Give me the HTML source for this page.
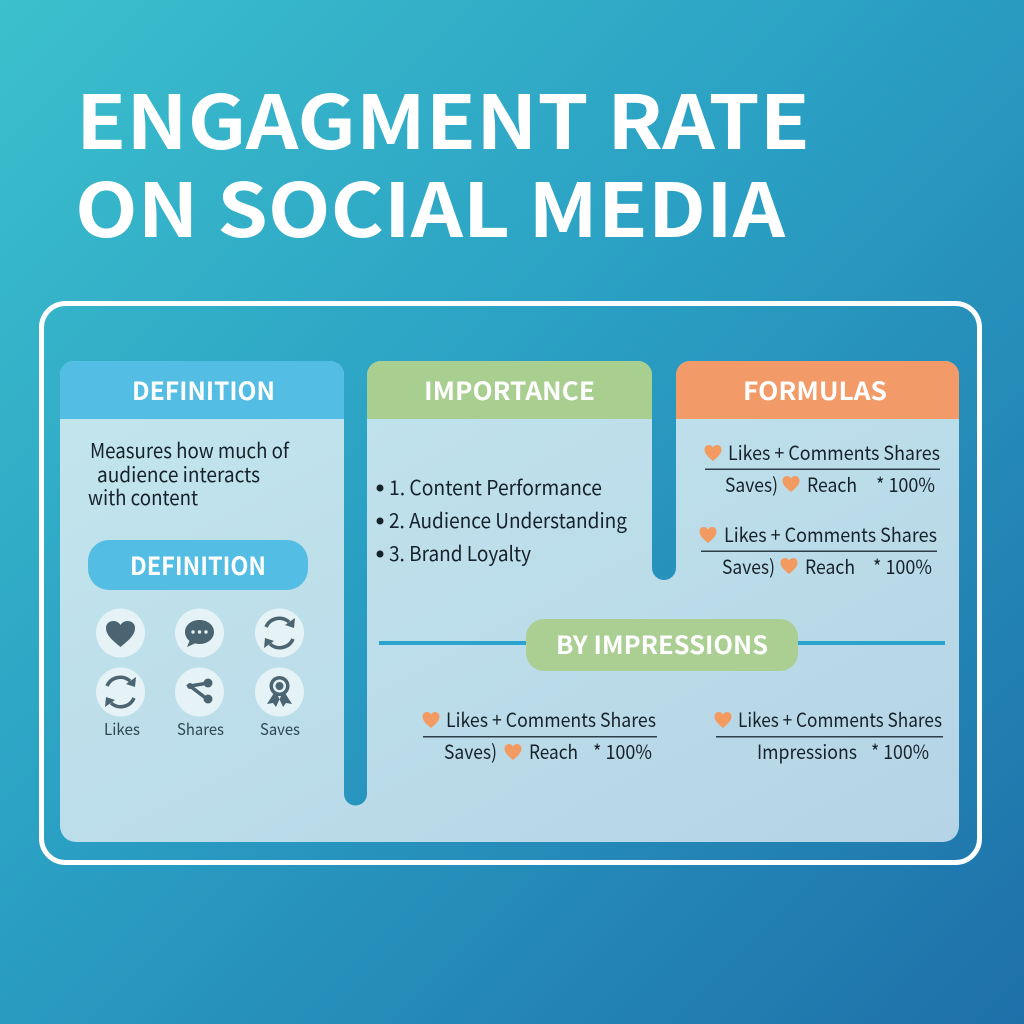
<!DOCTYPE html>
<html lang="en">
<head>
<meta charset="utf-8">
<title>Engagment Rate on Social Media</title>
<style>
html,body{margin:0;padding:0;width:1024px;height:1024px;overflow:hidden}
svg{display:block}
text{font-family:"Noto Sans CJK JP","Liberation Sans",sans-serif;fill:#16222b}
.h{font-weight:700;fill:#fff;font-size:25px}
.t{font-weight:700;fill:#fff;font-size:74px}
.b{font-size:20.5px}
.f{font-size:19.5px}
.l{font-size:16px;fill:#2f4554}
</style>
</head>
<body>
<svg width="1024" height="1024" viewBox="0 0 1024 1024" xmlns="http://www.w3.org/2000/svg">
<defs>
<linearGradient id="bg" x1="0" y1="0" x2="1" y2="1">
<stop offset="0" stop-color="#3cc0cd"/><stop offset=".45" stop-color="#2a9fc3"/><stop offset="1" stop-color="#1e70a9"/>
</linearGradient>
<linearGradient id="pn" x1="0" y1="0" x2="1" y2="1">
<stop offset="0" stop-color="#c3e6ed"/><stop offset="1" stop-color="#b5d4e6"/>
</linearGradient>
</defs>
<rect width="1024" height="1024" fill="url(#bg)"/>

<text class="t" x="76" y="149" textLength="734" lengthAdjust="spacingAndGlyphs">ENGAGMENT RATE</text>
<text class="t" x="75" y="237" textLength="710" lengthAdjust="spacingAndGlyphs">ON SOCIAL MEDIA</text>

<rect x="41.5" y="303.500" width="938" height="559" rx="24" fill="none" stroke="#fff" stroke-width="5"/>

<path fill="url(#pn)" d="M74 361H330A14 14 0 0 1 344 375V794A11.500 11.500 0 0 0 367 794V375A14 14 0 0 1 381 361H638A14 14 0 0 1 652 375V568A12 12 0 0 0 676 568V375A14 14 0 0 1 690 361H945A14 14 0 0 1 959 375V826A16 16 0 0 1 943 842H76A16 16 0 0 1 60 826V375A14 14 0 0 1 74 361Z"/>

<path fill="#54bde3" d="M60 419V375A14 14 0 0 1 74 361H330A14 14 0 0 1 344 375V419Z"/>
<path fill="#a9cf90" d="M367 419V375A14 14 0 0 1 381 361H638A14 14 0 0 1 652 375V419Z"/>
<path fill="#f29a68" d="M676 419V375A14 14 0 0 1 690 361H945A14 14 0 0 1 959 375V419Z"/>
<text class="h" x="132" y="400" textLength="143" lengthAdjust="spacingAndGlyphs">DEFINITION</text>
<text class="h" x="424" y="400" textLength="171" lengthAdjust="spacingAndGlyphs">IMPORTANCE</text>
<text class="h" x="743" y="400" textLength="144" lengthAdjust="spacingAndGlyphs">FORMULAS</text>

<g>
<text class="b" x="90" y="458" textLength="199" lengthAdjust="spacingAndGlyphs">Measures how much of</text>
<text class="b" x="97" y="482" textLength="163" lengthAdjust="spacingAndGlyphs">audience interacts</text>
<text class="b" x="88" y="505" textLength="110" lengthAdjust="spacingAndGlyphs">with content</text>
</g>

<rect x="88" y="540" width="220" height="50" rx="21" fill="#54bde3"/>
<text class="h" x="130" y="575" textLength="136" lengthAdjust="spacingAndGlyphs">DEFINITION</text>

<g>
<circle cx="120.500" cy="633" r="24.500" fill="#e6f3f6"/>
<path fill="#4a6472" d="M120.500 647C112 640 106 635 106 628C106 623 110 621 113.500 621C116.500 621 119 622.500 120.500 625C122 622.500 124.500 621 127.500 621C131 621 135 623 135 628C135 635 129 640 120.500 647Z"/>
</g>
<g>
<circle cx="199.500" cy="633" r="24.500" fill="#e6f3f6"/>
<path fill="#4a6472" d="M199.500 620C207.500 620 214 625 214 632C214 639 207.500 644 199.500 644C198 644 196.500 643.800 195 643.400L187 647L189.500 641C186.500 638.500 185 635.500 185 632C185 625 191.500 620 199.500 620Z"/>
<circle cx="193" cy="632" r="1.700" fill="#e6f3f6"/><circle cx="199.500" cy="632" r="1.700" fill="#e6f3f6"/><circle cx="206" cy="632" r="1.700" fill="#e6f3f6"/>
</g>
<g>
<circle cx="279.500" cy="633" r="24.500" fill="#e6f3f6"/>
<path fill="none" stroke="#4a6472" stroke-width="3.500" d="M266 627A14.500 14.500 0 0 1 289 622M293 639A14.500 14.500 0 0 1 270 644"/>
<path fill="#4a6472" d="M295 618L294 628L285 625ZM264 648L265 638L274 641Z"/>
</g>
<g>
<circle cx="120.500" cy="692" r="24.500" fill="#e6f3f6"/>
<path fill="none" stroke="#4a6472" stroke-width="3.500" d="M107 686A14.500 14.500 0 0 1 130 681M134 698A14.500 14.500 0 0 1 111 703"/>
<path fill="#4a6472" d="M136 677L135 687L126 684ZM105 707L106 697L115 700Z"/>
</g>
<g>
<circle cx="199.500" cy="692" r="24.500" fill="#e6f3f6"/>
<path fill="none" stroke="#4a6472" stroke-width="3.500" d="M208 683L190 686L207 699"/>
<circle cx="208" cy="683" r="4.500" fill="#4a6472"/><circle cx="208" cy="699" r="4.500" fill="#4a6472"/><circle cx="190" cy="686" r="3" fill="#4a6472"/>
</g>
<g>
<circle cx="279.500" cy="692" r="24.500" fill="#e6f3f6"/>
<path fill="#4a6472" d="M274 693L267 704L273 703L276 707L281 696ZM285 693L292 704L286 703L283 707L278 696Z"/>
<circle cx="279.500" cy="686" r="10" fill="#4a6472"/>
<circle cx="279.500" cy="686" r="6.500" fill="#e6f3f6"/>
<circle cx="279.500" cy="686" r="4" fill="#4a6472"/>
</g>
<text class="l" x="104" y="735" textLength="36" lengthAdjust="spacingAndGlyphs">Likes</text>
<text class="l" x="177" y="735" textLength="47" lengthAdjust="spacingAndGlyphs">Shares</text>
<text class="l" x="260" y="735" textLength="40" lengthAdjust="spacingAndGlyphs">Saves</text>

<g>
<circle cx="380" cy="488" r="3.500" fill="#16222b"/>
<text class="b" x="389" y="495" textLength="213" lengthAdjust="spacingAndGlyphs">1. Content Performance</text>
<circle cx="380" cy="521" r="3.500" fill="#16222b"/>
<text class="b" x="389" y="528" textLength="238" lengthAdjust="spacingAndGlyphs">2. Audience Understanding</text>
<circle cx="380" cy="554" r="3.500" fill="#16222b"/>
<text class="b" x="389" y="561" textLength="142" lengthAdjust="spacingAndGlyphs">3. Brand Loyalty</text>
</g>

<g>
<path fill="#f29a60" d="M713 461C707 456 704.500 453 704.500 449.500C704.500 446.500 707 445 709 445C710.800 445 712.200 446 713 447.500C713.800 446 715.200 445 717 445C719 445 721.500 446.500 721.500 449.500C721.500 453 719 456 713 461Z"/>
<text class="f" x="728" y="460" textLength="212" lengthAdjust="spacingAndGlyphs">Likes + Comments Shares</text>
<rect x="705" y="468.500" width="235" height="1.500" fill="#2c3e48"/>
<text class="f" x="725" y="492" textLength="53" lengthAdjust="spacingAndGlyphs">Saves)</text>
<path fill="#f29a60" d="M791 492C785 487 782.500 484 782.500 480.500C782.500 477.500 785 476 787 476C788.800 476 790.200 477 791 478.500C791.800 477 793.200 476 795 476C797 476 799.500 477.500 799.500 480.500C799.500 484 797 487 791 492Z"/>
<text class="f" x="807" y="492" textLength="50" lengthAdjust="spacingAndGlyphs">Reach</text>
<text class="f" x="876" y="492" textLength="59" lengthAdjust="spacingAndGlyphs">* 100%</text>
</g>

<g>
<path fill="#f29a60" d="M708 543C702 538 699.500 535 699.500 531.500C699.500 528.500 702 527 704 527C705.800 527 707.200 528 708 529.500C708.800 528 710.200 527 712 527C714 527 716.500 528.500 716.500 531.500C716.500 535 714 538 708 543Z"/>
<text class="f" x="724" y="542" textLength="213" lengthAdjust="spacingAndGlyphs">Likes + Comments Shares</text>
<rect x="701" y="550.500" width="236" height="1.500" fill="#2c3e48"/>
<text class="f" x="722" y="574" textLength="53" lengthAdjust="spacingAndGlyphs">Saves)</text>
<path fill="#f29a60" d="M789 574C783 569 780.500 566 780.500 562.500C780.500 559.500 783 558 785 558C786.800 558 788.200 559 789 560.500C789.800 559 791.200 558 793 558C795 558 797.500 559.500 797.500 562.500C797.500 566 795 569 789 574Z"/>
<text class="f" x="805" y="574" textLength="50" lengthAdjust="spacingAndGlyphs">Reach</text>
<text class="f" x="873" y="574" textLength="59" lengthAdjust="spacingAndGlyphs">* 100%</text>
</g>

<rect x="379" y="641" width="566" height="4" fill="#2ba3cf"/>
<rect x="526" y="619" width="272" height="52" rx="18" fill="#abcf93"/>
<text class="h" x="556" y="654" textLength="212" lengthAdjust="spacingAndGlyphs">BY IMPRESSIONS</text>

<g>
<path fill="#f29a60" d="M431 728C425 723 422.500 720 422.500 716.500C422.500 713.500 425 712 427 712C428.800 712 430.200 713 431 714.500C431.800 713 433.200 712 435 712C437 712 439.500 713.500 439.500 716.500C439.500 720 437 723 431 728Z"/>
<text class="f" x="446" y="727" textLength="210" lengthAdjust="spacingAndGlyphs">Likes + Comments Shares</text>
<rect x="423" y="736" width="234" height="1.500" fill="#2c3e48"/>
<text class="f" x="444" y="759" textLength="53" lengthAdjust="spacingAndGlyphs">Saves)</text>
<path fill="#f29a60" d="M513 760C507 755 504.500 752 504.500 748.500C504.500 745.500 507 744 509 744C510.800 744 512.200 745 513 746.500C513.800 745 515.200 744 517 744C519 744 521.500 745.500 521.500 748.500C521.500 752 519 755 513 760Z"/>
<text class="f" x="529" y="759" textLength="49" lengthAdjust="spacingAndGlyphs">Reach</text>
<text class="f" x="593" y="759" textLength="59" lengthAdjust="spacingAndGlyphs">* 100%</text>
</g>

<g>
<path fill="#f29a60" d="M723 728C717 723 714.500 720 714.500 716.500C714.500 713.500 717 712 719 712C720.800 712 722.200 713 723 714.500C723.800 713 725.200 712 727 712C729 712 731.500 713.500 731.500 716.500C731.500 720 729 723 723 728Z"/>
<text class="f" x="738" y="727" textLength="204" lengthAdjust="spacingAndGlyphs">Likes + Comments Shares</text>
<rect x="716" y="736" width="227" height="1.500" fill="#2c3e48"/>
<text class="f" x="757" y="759" textLength="100" lengthAdjust="spacingAndGlyphs">Impressions</text>
<text class="f" x="871" y="759" textLength="58" lengthAdjust="spacingAndGlyphs">* 100%</text>
</g>
</svg>
</body>
</html>
